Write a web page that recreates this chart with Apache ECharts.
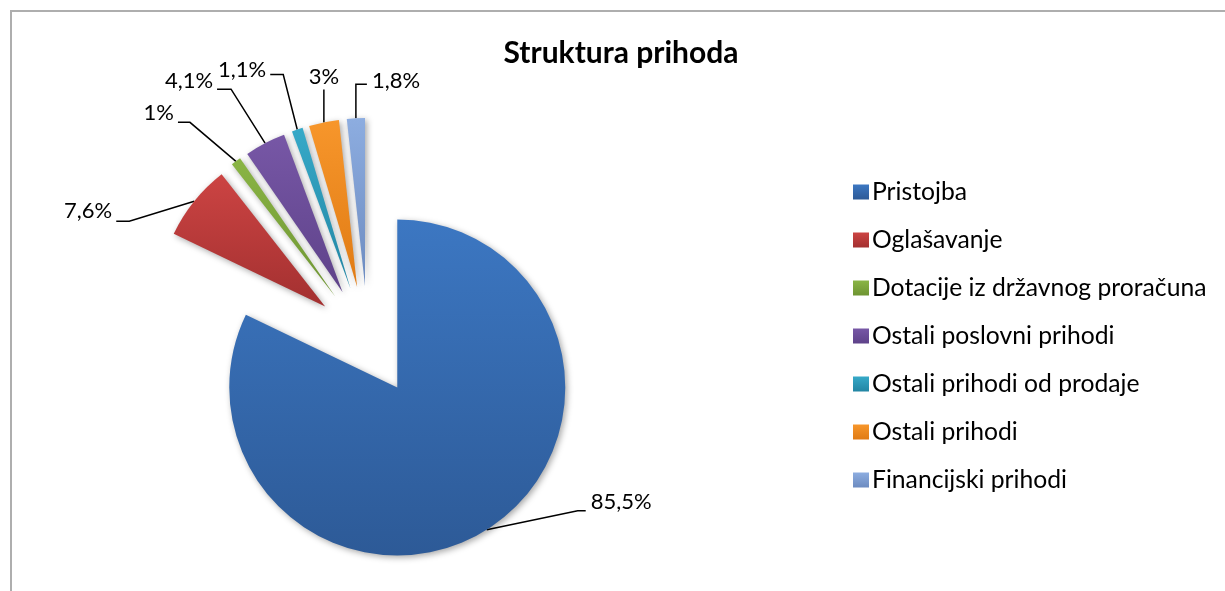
<!DOCTYPE html>
<html>
<head>
<meta charset="utf-8">
<script src="https://cdn.jsdelivr.net/npm/echarts@6/dist/echarts.min.js"></script>
<style>
html,body{margin:0;padding:0;background:#fff;}
#chart{width:1225px;height:591px;}
</style>
</head>
<body>
<div id="chart"></div>
<script>
const titleText = 'Struktura prihoda';
const categories = ['Pristojba','Oglašavanje','Dotacije iz državnog proračuna','Ostali poslovni prihodi','Ostali prihodi od prodaje','Ostali prihodi','Financijski prihodi'];
const values = [85.5, 7.6, 1, 4.1, 1.1, 3, 1.8];
const labels = ['85,5%','7,6%','1%','4,1%','1,1%','3%','1,8%'];
const colorsTop = ['#3C77C2','#CC4443','#8AB545','#7757A6','#36A9C8','#F7962B','#8DADE0'];
const colorsBottom = ['#2D5A97','#A33030','#6E9432','#5E4289','#2285A3','#E07B14','#6C8BC0'];

// Excel-style leader-line geometry: elbow offset from slice edge, horizontal run, text lift
const elbow = [[91,-19],[-65,20],[-46,-39],[-34,-54],[-14,-55],[0,-33],[0,-34]];
const run = [8,-13,-12,-14,-13,0,11];
const lift = [9,10,9,8,5,0,3];

const CENTER = [368, 341];
const RADIUS = 168;
const EXPLODE = 55;

const chart = echarts.init(document.getElementById('chart'), null, {renderer:'canvas'});
const FONT = 'Lato';

const grad = i => new echarts.graphic.LinearGradient(0, 0, 0, 1, [
  {offset: 0, color: colorsTop[i]},
  {offset: 1, color: colorsBottom[i]}
]);

const sliceData = categories.map((c, i) => ({
  name: c,
  value: values[i],
  selected: true,
  itemStyle: {color: grad(i)}
}));
const labelData = categories.map((c, i) => ({name: c, value: values[i]}));

chart.setOption({
  animation: false,
  backgroundColor: '#ffffff',
  title: {
    text: titleText,
    left: 616,
    textAlign: 'center',
    top: 33,
    textStyle: {fontFamily: FONT, fontWeight: 'bold', fontSize: 30, color: '#000'}
  },
  graphic: [{
    type: 'rect',
    shape: {x: 11, y: 11, width: 1260, height: 620},
    style: {fill: 'none', stroke: '#AEAEAE', lineWidth: 2},
    silent: true,
    z: -10
  }],
  legend: {
    orient: 'vertical',
    left: 848,
    top: 173,
    itemWidth: 16,
    itemHeight: 15,
    itemGap: 20,
    icon: 'rect',
    selectedMode: false,
    textStyle: {fontFamily: FONT, fontSize: 24.7, color: '#000', lineHeight: 28, padding: [0,0,0,-2]},
    data: categories.map((c, i) => ({name: c, itemStyle: {color: grad(i)}}))
  },
  series: [{
    type: 'pie',
    name: 'slices',
    center: CENTER,
    radius: RADIUS,
    startAngle: 90,
    clockwise: true,
    selectedMode: 'multiple',
    selectedOffset: EXPLODE,
    emphasis: {disabled: true},
    itemStyle: {
      shadowBlur: 6,
      shadowColor: 'rgba(0,0,0,0.35)',
      shadowOffsetX: 2,
      shadowOffsetY: 2
    },
    label: {show: false},
    labelLine: {show: false},
    data: sliceData
  }, {
    type: 'pie',
    name: 'labels',
    center: CENTER,
    radius: RADIUS,
    startAngle: 90,
    clockwise: true,
    silent: true,
    selectedMode: false,
    avoidLabelOverlap: false,
    emphasis: {disabled: true},
    itemStyle: {color: 'rgba(0,0,0,0)'},
    label: {
      show: true,
      position: 'outside',
      formatter: p => labels[p.dataIndex],
      fontFamily: FONT,
      fontSize: 22,
      color: '#000'
    },
    labelLine: {
      show: true,
      length: 22,
      length2: 14,
      lineStyle: {color: '#000', width: 1.5}
    },
    labelLayout: function (params) {
      const i = params.dataIndex;
      const e = params.labelLinePoints[0];
      const vx = e[0] - CENTER[0], vy = e[1] - CENTER[1];
      const len = Math.sqrt(vx * vx + vy * vy) || 1;
      const p0 = [e[0] + vx / len * EXPLODE, e[1] + vy / len * EXPLODE];
      const p1 = [p0[0] + elbow[i][0], p0[1] + elbow[i][1]];
      const p2 = [p1[0] + run[i], p1[1]];
      let x, y, align, va;
      if (run[i] > 0) { x = p2[0] + 5; y = p2[1] - lift[i]; align = 'left'; va = 'middle'; }
      else if (run[i] < 0) { x = p2[0] - 4; y = p2[1] - lift[i]; align = 'right'; va = 'middle'; }
      else { x = p2[0]; y = p2[1] - 2; align = 'center'; va = 'bottom'; }
      return {x: x, y: y, align: align, verticalAlign: va, labelLinePoints: [p0, p1, p2]};
    },
    data: labelData
  }]
});
</script>
</body>
</html>
